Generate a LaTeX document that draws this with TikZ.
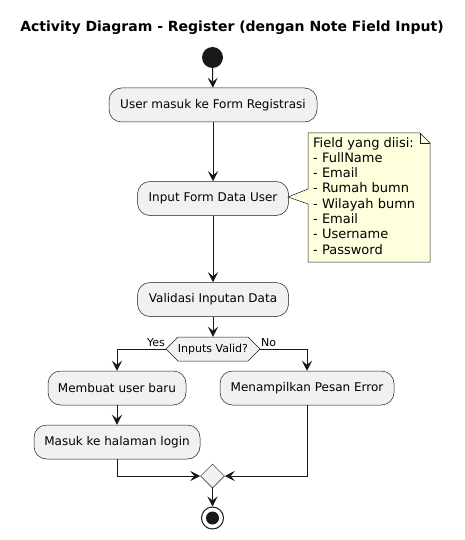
\documentclass[tikz,border=0pt]{standalone}
\usepackage{fontspec}
\setmainfont{DejaVu Sans}
\usetikzlibrary{arrows.meta,shapes.geometric}
\definecolor{boxfill}{HTML}{F1F1F1}
\definecolor{linec}{HTML}{181818}
\definecolor{notefill}{HTML}{FEFFDD}
\tikzset{
  act/.style={draw=linec, line width=0.5pt, fill=boxfill, rounded corners=12.5pt,
    minimum height=34pt, inner sep=0pt, font=\fontsize{12}{14}\selectfont},
  flow/.style={draw=linec, line width=1pt, -{Stealth[length=10pt,width=10pt,inset=4pt]}},
  lbl/.style={font=\fontsize{11}{13}\selectfont, inner sep=0pt},
}
\begin{document}
\begin{tikzpicture}[x=1pt,y=-1pt]
\useasboundingbox (0,0) rectangle (465,540);
\node[font=\bfseries\fontsize{14}{16}\selectfont] (title) at (232,28) {Activity Diagram - Register (dengan Note Field Input)};
\node[circle, fill=linec, minimum size=21pt, inner sep=0pt] (start) at (212.5,57.5) {};
\node[act, minimum width=208pt] (b1) at (213,105) {User masuk ke Form Registrasi};
\node[act, minimum width=151pt] (b2) at (213,198.5) {Input Form Data User};
\node[act, minimum width=151pt] (b3) at (213,299.5) {Validasi Inputan Data};
% decision hexagon
\coordinate (decL) at (166,349);
\coordinate (decR) at (260,349);
\draw[draw=linec, line width=0.5pt, fill=boxfill] (decL) -- (178,337) -- (248,337) -- (decR) -- (248,361) -- (178,361) -- cycle;
\node[lbl, minimum width=70pt, minimum height=24pt] (dec) at (213,349) {Inputs Valid?};
\node[act, minimum width=138pt] (b4) at (117,388) {Membuat user baru};
\node[act, minimum width=166pt] (b5) at (117,442) {Masuk ke halaman login};
\node[act, minimum width=174pt] (b6) at (307,388) {Menampilkan Pesan Error};
\node[diamond, aspect=1, draw=linec, line width=0.5pt, fill=boxfill, minimum size=24pt, inner sep=0pt] (merge) at (212.5,476) {};
\node[circle, draw=linec, line width=1pt, fill=white, minimum size=22pt, inner sep=0pt] (endo) at (212.5,518) {};
\node[circle, fill=linec, minimum size=13pt, inner sep=0pt] (endi) at (212.5,518) {};
% note
\coordinate (tip) at (288,197);
\draw[draw=linec, line width=0.5pt, fill=notefill] (308,133) -- (420,133) -- (430,143) -- (430,262) -- (308,262) -- (308,204) -- (tip) -- (308,189) -- cycle;
\draw[draw=linec, line width=0.5pt] (420,133) -- (420,143) -- (430,143);
\node[anchor=north west, align=left, inner sep=0pt, font=\fontsize{13}{15.3}\selectfont] (note) at (313,137) {Field yang diisi:\\- FullName\\- Email\\- Rumah bumn\\- Wilayah bumn\\- Email\\- Username\\- Password};
% flows
\draw[flow] (start) -- (b1);
\draw[flow] (b1) -- (b2);
\draw[flow] (b2) -- (b3);
\draw[flow] (b3) -- (dec.north);
\draw[flow] (decL) -| (b4.north);
\draw[flow] (decR) -| (b6.north);
\draw[flow] (b4) -- (b5);
\draw[flow] (b5.south) |- (merge.west);
\draw[flow] (b6.south) |- (merge.east);
\draw[flow] (merge) -- (endo);
\node[lbl, anchor=south east] (yes) at (165,347) {Yes};
\node[lbl, anchor=south west] (no) at (261,347) {No};
\end{tikzpicture}
\end{document}
